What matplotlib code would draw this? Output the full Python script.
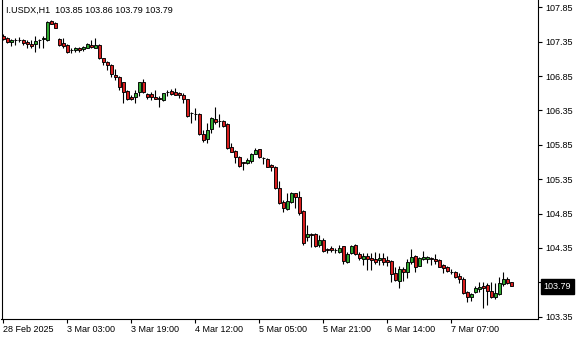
import matplotlib
matplotlib.use("Agg")
import matplotlib.pyplot as plt
import matplotlib.transforms as mtransforms
import numpy as np

symbol = "I.USDX,H1"
header_values = ["103.85", "103.86", "103.79", "103.79"]
last_price = 103.79

opens = [
    107.437, 107.408, 107.341, 107.374, 107.379, 107.374, 107.350, 107.320, 107.320, 107.377,
    107.395, 107.374, 107.651, 107.621, 107.389, 107.331, 107.302, 107.229, 107.224, 107.262,
    107.239, 107.262, 107.302, 107.262, 107.302, 107.108, 107.059, 107.011, 106.865, 106.832,
    106.759, 106.633, 106.550, 106.550, 106.614, 106.759, 106.589, 106.585, 106.541, 106.535,
    106.502, 106.614, 106.633, 106.618, 106.608, 106.579, 106.512, 106.308, 106.299, 106.298,
    106.007, 105.939, 106.075, 106.225, 106.201, 106.201, 106.148, 105.814, 105.760, 105.668,
    105.593, 105.590, 105.619, 105.716, 105.785, 105.654, 105.639, 105.556, 105.523, 105.217,
    105.022, 104.916, 105.011, 105.145, 105.086, 104.892, 104.514, 104.557, 104.553, 104.393,
    104.465, 104.327, 104.353, 104.321, 104.295, 104.378, 104.150, 104.269, 104.393, 104.262,
    104.196, 104.228, 104.204, 104.196, 104.170, 104.208, 104.170, 104.160, 103.981, 103.876,
    104.041, 104.004, 104.138, 104.230, 104.087, 104.182, 104.182, 104.198, 104.193, 104.174,
    104.102, 104.077, 104.006, 104.000, 103.942, 103.894, 103.705, 103.632, 103.705, 103.757,
    103.796, 103.811, 103.724, 103.632, 103.680, 103.826, 103.894, 103.850,
]
highs = [
    107.462, 107.418, 107.384, 107.399, 107.413, 107.389, 107.370, 107.370, 107.437, 107.389,
    107.437, 107.651, 107.665, 107.632, 107.408, 107.399, 107.312, 107.254, 107.277, 107.268,
    107.291, 107.331, 107.374, 107.408, 107.312, 107.117, 107.076, 107.025, 106.948, 106.851,
    106.768, 106.647, 106.574, 106.647, 106.768, 106.803, 106.608, 106.622, 106.647, 106.560,
    106.608, 106.647, 106.662, 106.672, 106.622, 106.608, 106.520, 106.331, 106.381, 106.308,
    106.065, 106.171, 106.250, 106.404, 106.298, 106.211, 106.163, 105.872, 105.774, 105.687,
    105.600, 105.654, 105.735, 105.799, 105.789, 105.668, 105.654, 105.571, 105.542, 105.324,
    105.040, 105.142, 105.168, 105.153, 105.178, 104.902, 104.684, 104.567, 104.572, 104.538,
    104.490, 104.345, 104.382, 104.356, 104.393, 104.385, 104.291, 104.393, 104.407, 104.295,
    104.276, 104.272, 104.269, 104.291, 104.276, 104.276, 104.233, 104.170, 104.073, 104.087,
    104.068, 104.189, 104.332, 104.247, 104.218, 104.310, 104.233, 104.214, 104.262, 104.185,
    104.116, 104.087, 104.039, 104.019, 103.981, 103.923, 103.728, 103.690, 103.796, 103.859,
    103.859, 103.836, 103.859, 103.844, 103.932, 104.000, 103.923, 103.860,
]
lows = [
    107.367, 107.331, 107.291, 107.302, 107.341, 107.302, 107.254, 107.254, 107.204, 107.262,
    107.262, 107.364, 107.603, 107.544, 107.291, 107.254, 107.181, 107.181, 107.204, 107.204,
    107.214, 107.254, 107.254, 107.254, 107.098, 107.011, 106.938, 106.840, 106.793, 106.647,
    106.462, 106.502, 106.502, 106.454, 106.560, 106.599, 106.512, 106.502, 106.512, 106.404,
    106.491, 106.560, 106.570, 106.570, 106.526, 106.454, 106.259, 106.163, 106.211, 105.993,
    105.895, 105.881, 106.026, 106.153, 106.113, 106.104, 105.789, 105.741, 105.590, 105.532,
    105.483, 105.571, 105.581, 105.716, 105.658, 105.571, 105.523, 105.473, 105.203, 104.989,
    104.873, 104.902, 104.999, 104.926, 104.829, 104.393, 104.451, 104.368, 104.364, 104.364,
    104.291, 104.272, 104.296, 104.272, 104.272, 104.116, 104.135, 104.262, 104.247, 104.174,
    104.102, 104.029, 104.029, 104.116, 104.102, 104.102, 104.087, 103.847, 103.876, 103.763,
    103.873, 103.913, 104.109, 104.004, 104.080, 104.167, 104.127, 104.102, 104.116, 104.068,
    103.981, 104.004, 103.971, 103.908, 103.836, 103.680, 103.568, 103.583, 103.690, 103.714,
    103.472, 103.520, 103.618, 103.603, 103.665, 103.796, 103.826, 103.790,
]
closes = [
    107.389, 107.350, 107.374, 107.369, 107.376, 107.326, 107.312, 107.291, 107.360, 107.380,
    107.399, 107.640, 107.611, 107.544, 107.302, 107.291, 107.204, 107.226, 107.254, 107.224,
    107.277, 107.320, 107.272, 107.302, 107.108, 107.059, 107.011, 106.880, 106.832, 106.695,
    106.614, 106.512, 106.520, 106.599, 106.759, 106.614, 106.541, 106.550, 106.512, 106.512,
    106.599, 106.611, 106.593, 106.579, 106.570, 106.512, 106.273, 106.306, 106.296, 106.007,
    105.920, 106.065, 106.235, 106.186, 106.198, 106.123, 105.808, 105.750, 105.668, 105.542,
    105.590, 105.629, 105.716, 105.770, 105.668, 105.652, 105.532, 105.532, 105.217, 104.999,
    104.926, 105.033, 105.145, 105.086, 104.858, 104.422, 104.553, 104.531, 104.378, 104.465,
    104.310, 104.325, 104.320, 104.318, 104.345, 104.160, 104.257, 104.383, 104.262, 104.199,
    104.228, 104.189, 104.167, 104.138, 104.208, 104.138, 104.138, 103.975, 103.884, 104.041,
    104.004, 104.138, 104.215, 104.070, 104.204, 104.218, 104.214, 104.196, 104.164, 104.076,
    104.054, 104.019, 104.004, 103.923, 103.894, 103.699, 103.632, 103.680, 103.763, 103.786,
    103.763, 103.728, 103.641, 103.699, 103.844, 103.894, 103.844, 103.790,
]
time_labels = ["28 Feb 2025", "3 Mar 03:00", "3 Mar 19:00", "4 Mar 12:00",
               "5 Mar 05:00", "5 Mar 21:00", "6 Mar 14:00", "7 Mar 07:00"]
bars_per_label = 16
price_ticks = [107.85, 107.35, 106.85, 106.35, 105.85, 105.35, 104.85, 104.35, 103.85, 103.35]

plt.rcParams['font.family'] = ['Liberation Sans', 'DejaVu Sans']
FS = 6.5
W, H = 580, 340
fig = plt.figure(figsize=(W / 100, H / 100), dpi=100)
fig.patch.set_facecolor('white')
ax = fig.add_axes([1.5 / W, (H - 319) / H, (538 - 1.5) / W, 319 / H])
ax.set_facecolor('white')

o = np.array(opens); h = np.array(highs); l = np.array(lows); c = np.array(closes)
x = np.arange(len(o))
up = c >= o
green, red = '#2FA82F', '#D91E1E'
colors = np.where(up, green, red)

ax.vlines(x, l, h, color='black', linewidth=0.8, zorder=2)
ax.bar(x, np.abs(c - o), bottom=np.minimum(o, c), width=0.75, color=colors,
       edgecolor='black', linewidth=0.65, zorder=3)

ax.set_xlim(-0.45, 133.675)
ax.set_ylim(103.316, 107.956)

ax.yaxis.tick_right()
ax.set_yticks(price_ticks)
ax.set_yticklabels([f"{v:.2f}" for v in price_ticks])
ax.tick_params(axis='y', direction='out', length=3, width=0.8, labelsize=FS, pad=2.5, colors='black')

xt = [k * bars_per_label for k in range(len(time_labels))]
ax.set_xticks(xt)
ax.set_xticklabels(time_labels)
for lab in ax.get_xticklabels():
    lab.set_horizontalalignment('left')
ax.tick_params(axis='x', direction='out', length=3, width=0.8, labelsize=FS, pad=1.5, colors='black')

for side in ['left', 'right', 'bottom']:
    ax.spines[side].set_linewidth(0.8)
    ax.spines[side].set_color('black')
ax.spines['top'].set_visible(False)

fig.text(6 / W, 1 - 10.5 / H, symbol + "  " + " ".join(header_values), fontsize=FS,
         va='center', ha='left', color='black')

trans = mtransforms.offset_copy(ax.get_yaxis_transform(), fig=fig, x=5.3, y=0, units='dots')
ax.text(1.0, last_price, f"{last_price:.2f}", transform=trans, ha='left', va='center',
        fontsize=FS, color='white', zorder=10, clip_on=False,
        bbox=dict(boxstyle='square,pad=0.3', facecolor='black', edgecolor='black'))

fig.savefig('out.png', dpi=100, facecolor='white')
